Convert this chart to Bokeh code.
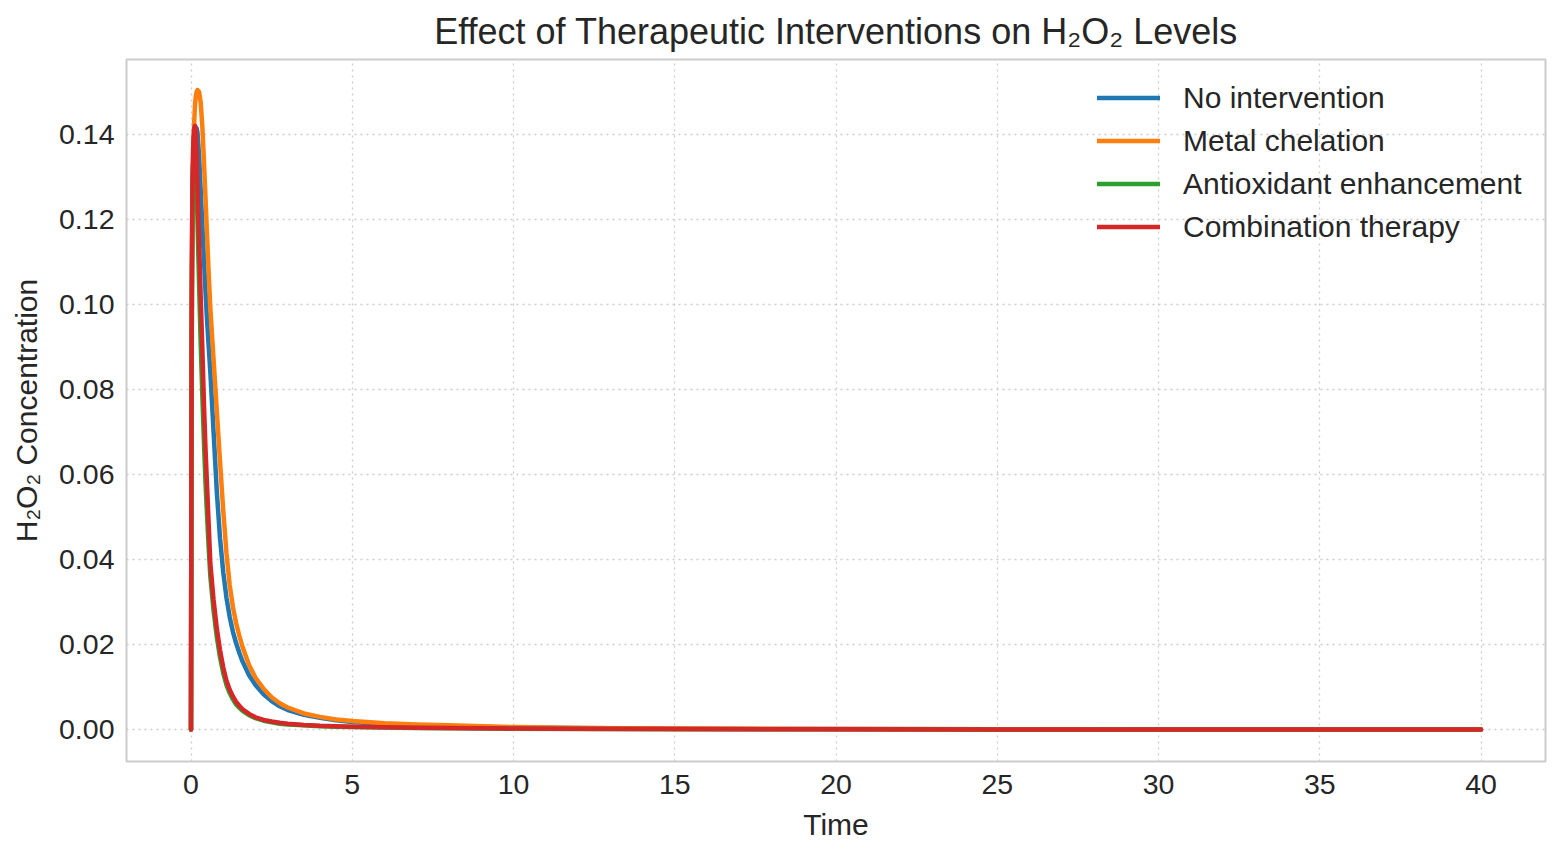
from bokeh.plotting import figure
from bokeh.models import Range1d, FixedTicker, NumeralTickFormatter, Legend, LegendItem, ColumnDataSource
from bokeh.embed import file_html
from bokeh.resources import INLINE

# ---- data ----
time = [0, 0.01, 0.02, 0.03, 0.05, 0.075, 0.1, 0.125, 0.15, 0.175, 0.2, 0.25, 0.3, 0.35, 0.4,
        0.45, 0.5, 0.55, 0.6, 0.7, 0.8, 0.9, 1.0, 1.1, 1.2, 1.3, 1.4, 1.5, 1.6, 1.8, 2.0, 2.25,
        2.5, 2.75, 3.0, 3.5, 4.0, 4.5, 5.0, 6.0, 7.0, 8.0, 10, 12, 15, 20, 25, 30, 35, 40]

no_intervention = [0, 0.05, 0.085, 0.105, 0.125, 0.135, 0.1395, 0.1412, 0.1416, 0.1414, 0.1405,
                   0.135, 0.127, 0.119, 0.111, 0.103, 0.096, 0.090, 0.084, 0.070, 0.056, 0.045,
                   0.0370, 0.0310, 0.0265, 0.0230, 0.0203, 0.0180, 0.0160, 0.0128, 0.0105, 0.0083,
                   0.0067, 0.0055, 0.0046, 0.0035, 0.0028, 0.0022, 0.0018, 0.0013, 0.0010, 0.0008,
                   0.0005, 0.00035, 0.00022, 0.00012, 0.00007, 0.00005, 0.00003, 0.00002]

metal_chelation = [0, 0.048, 0.082, 0.103, 0.124, 0.136, 0.143, 0.147, 0.149, 0.1500, 0.1504,
                   0.1500, 0.1475, 0.142, 0.134, 0.125, 0.116, 0.107, 0.099, 0.087, 0.075, 0.063,
                   0.0515, 0.0415, 0.0340, 0.0288, 0.0250, 0.0220, 0.0194, 0.0152, 0.0122, 0.0096,
                   0.0076, 0.0062, 0.0052, 0.0038, 0.0030, 0.0024, 0.0020, 0.0015, 0.0012, 0.0010,
                   0.0006, 0.0004, 0.00025, 0.00014, 0.00008, 0.00005, 0.00004, 0.00003]

antioxidant = [0, 0.052, 0.09, 0.11, 0.128, 0.135, 0.1375, 0.137, 0.134, 0.128, 0.120,
               0.105, 0.091, 0.079, 0.068, 0.058, 0.050, 0.0425, 0.0360, 0.0280, 0.0218, 0.0170,
               0.0133, 0.0105, 0.0086, 0.0071, 0.0059, 0.0051, 0.0044, 0.0034, 0.0027, 0.0021,
               0.0017, 0.0014, 0.0012, 0.0010, 0.0008, 0.0007, 0.0006, 0.00047, 0.00038, 0.0003,
               0.0002, 0.00015, 0.0001, 0.00006, 0.00004, 0.00002, 0.00002, 0.00001]

combination = [0, 0.055, 0.095, 0.115, 0.132, 0.139, 0.1415, 0.142, 0.1405, 0.135, 0.128,
               0.115, 0.102, 0.090, 0.077, 0.066, 0.057, 0.048, 0.039, 0.0305, 0.0238, 0.0187,
               0.0146, 0.0115, 0.0094, 0.0078, 0.0065, 0.0056, 0.0048, 0.0037, 0.0029, 0.0023,
               0.0019, 0.0016, 0.0014, 0.0011, 0.0009, 0.0008, 0.0007, 0.00055, 0.00045, 0.00035,
               0.00025, 0.00018, 0.00012, 0.00007, 0.00004, 0.00003, 0.00002, 0.00001]

series_names = ["No intervention", "Metal chelation", "Antioxidant enhancement", "Combination therapy"]
series_values = [no_intervention, metal_chelation, antioxidant, combination]
colors = ["#1f77b4", "#ff7f0e", "#2ca02c", "#d62728"]

x_ticks = [0, 5, 10, 15, 20, 25, 30, 35, 40]
y_ticks = [0.0, 0.02, 0.04, 0.06, 0.08, 0.10, 0.12, 0.14]

FONT = "Liberation Sans"
TXT = "#262626"

p = figure(frame_width=1419, frame_height=702, output_backend="svg", toolbar_location=None,
           x_range=Range1d(-2, 42), y_range=Range1d(-0.0075, 0.1576),
           min_border_left=0, min_border_right=9, min_border_top=0, min_border_bottom=0,
           margin=(0, 0, 0, 7),
           background_fill_color="white", border_fill_color="white")

p.title.text = "Effect of Therapeutic Interventions on H\u2082O\u2082 Levels"
p.title.align = "center"
p.title.text_font = FONT
p.title.text_font_size = "36px"
p.title.text_font_style = "normal"
p.title.text_color = TXT
p.title.standoff = 16

p.outline_line_color = "#cccccc"
p.outline_line_width = 2

for ax in (p.xaxis[0], p.yaxis[0]):
    ax.axis_line_color = None
    ax.major_tick_line_color = None
    ax.minor_tick_line_color = None
    ax.major_label_text_font = FONT
    ax.major_label_text_font_size = "28.5px"
    ax.major_label_text_color = TXT
    ax.axis_label_text_font = FONT
    ax.axis_label_text_font_size = "30px"
    ax.axis_label_text_font_style = "normal"
    ax.axis_label_text_color = TXT

p.xaxis.ticker = FixedTicker(ticks=x_ticks)
p.yaxis.ticker = FixedTicker(ticks=y_ticks)
p.yaxis.formatter = NumeralTickFormatter(format="0.00")
p.xaxis.axis_label = "Time"
p.yaxis.axis_label = "H\u2082O\u2082 Concentration"
p.xaxis.major_label_standoff = 7
p.yaxis.major_label_standoff = 6
p.xaxis.axis_label_standoff = 11
p.yaxis.axis_label_standoff = 13

for g in (p.xgrid[0], p.ygrid[0]):
    g.grid_line_color = "#cccccc"
    g.grid_line_width = 1.3
    g.grid_line_dash = "2 4"

items = []
for name, vals, c in zip(series_names, series_values, colors):
    src = ColumnDataSource(data=dict(t=time, v=vals))
    r = p.line("t", "v", source=src, line_color=c, line_width=4.5, line_cap="round", line_join="round")
    items.append(LegendItem(label=name, renderers=[r]))

legend = Legend(items=items, location=(971, 513), orientation="vertical",
                background_fill_alpha=0, border_line_alpha=0,
                label_text_font=FONT, label_text_font_size="30px", label_text_color=TXT,
                glyph_width=63, glyph_height=43, label_height=43, label_standoff=23,
                spacing=0, padding=0, margin=0)
p.add_layout(legend, "center")

open("out.html", "w").write(file_html(p, INLINE))
